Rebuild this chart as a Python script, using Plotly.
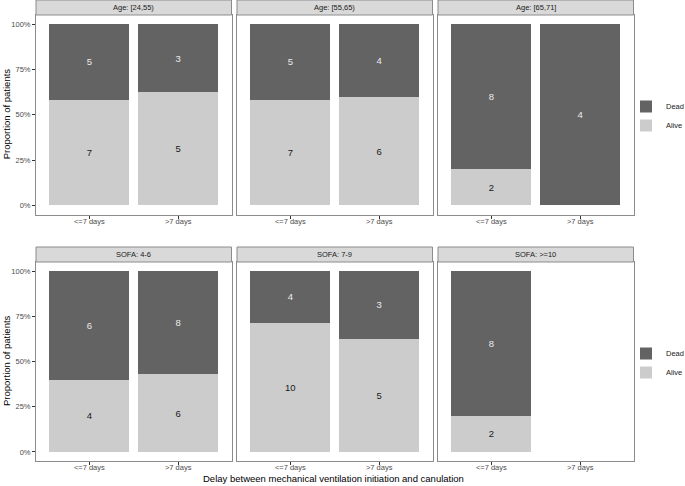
import plotly.graph_objects as go

W, H = 685, 486

categories = ["<=7 days", ">7 days"]
panel_titles = [
    ["Age: [24,55)", "Age: [55,65)", "Age: [65,71]"],
    ["SOFA: 4-6", "SOFA: 7-9", "SOFA: >=10"],
]
alive_counts = [
    [[7, 5], [7, 6], [2, 0]],
    [[4, 6], [10, 5], [2, None]],
]
dead_counts = [
    [[5, 3], [5, 4], [8, 4]],
    [[6, 8], [4, 3], [8, None]],
]
y_tick_vals = [0, 0.25, 0.5, 0.75, 1.0]
y_tick_text = ["0%", "25%", "50%", "75%", "100%"]

DEAD_COL = "#636363"
ALIVE_COL = "#cccccc"
BORDER = "#8c8c8c"
FONT = "Liberation Sans, Arial, sans-serif"

# pixel layout
x_px = [(36, 231.5), (237, 432.5), (438, 633.5)]
row_px = [(15, 214.5), (262, 461)]   # panel top/bottom (from top)
strip_h = 15

def px_x(v):
    return v / W

def px_y(v):
    return 1 - v / H

fig = go.Figure()
layout = {}
shapes = []
annotations = []

for r in range(2):
    for c in range(3):
        idx = r * 3 + c + 1
        xa = "x" if idx == 1 else f"x{idx}"
        ya = "y" if idx == 1 else f"y{idx}"
        xk = "xaxis" if idx == 1 else f"xaxis{idx}"
        yk = "yaxis" if idx == 1 else f"yaxis{idx}"
        al = alive_counts[r][c]
        de = dead_counts[r][c]
        tot = [(a + d) if a is not None else None for a, d in zip(al, de)]
        al_p = [a / t if t else None for a, t in zip(al, tot)]
        de_p = [d / t if t else None for d, t in zip(de, tot)]
        al_t = [str(a) if a else "" for a in al]
        de_t = [str(d) if d else "" for d in de]
        leg = "legend" if r == 0 else "legend2"
        fig.add_trace(go.Bar(
            x=categories, y=al_p, text=al_t, name="Alive",
            marker=dict(color=ALIVE_COL, line=dict(width=0)),
            textposition="inside", insidetextanchor="middle", textangle=0,
            textfont=dict(color="#1a1a1a", size=9.5, family=FONT),
            xaxis=xa, yaxis=ya, showlegend=(c == 0), legend=leg,
            legendrank=2, hoverinfo="skip",
        ))
        fig.add_trace(go.Bar(
            x=categories, y=de_p, text=de_t, name="Dead",
            marker=dict(color=DEAD_COL, line=dict(width=0)),
            textposition="inside", insidetextanchor="middle", textangle=0,
            textfont=dict(color="#ececec", size=9.5, family=FONT),
            xaxis=xa, yaxis=ya, showlegend=(c == 0), legend=leg,
            legendrank=1, hoverinfo="skip",
        ))
        x0, x1 = x_px[c]
        t0, t1 = row_px[r]
        layout[xk] = dict(
            domain=[px_x(x0), px_x(x1)], anchor=ya,
            type="category", categoryorder="array", categoryarray=categories,
            range=[-0.6, 1.6], showgrid=False, zeroline=False,
            showline=True, mirror=True, linecolor=BORDER, linewidth=1,
            ticks="outside", ticklen=3, tickcolor="#333333", tickwidth=1,
            tickfont=dict(size=7.5, color="#4d4d4d", family=FONT),
            ticklabelstandoff=-4,
            automargin=False, fixedrange=True,
        )
        layout[yk] = dict(
            domain=[px_y(t1), px_y(t0)], anchor=xa,
            range=[-0.05, 1.05], showgrid=False, zeroline=False,
            showline=True, mirror=True, linecolor=BORDER, linewidth=1,
            tickvals=y_tick_vals, ticktext=y_tick_text,
            ticks="outside" if c == 0 else "", ticklen=3,
            tickcolor="#333333", tickwidth=1,
            showticklabels=(c == 0),
            tickfont=dict(size=7.5, color="#4d4d4d", family=FONT),
            automargin=False, fixedrange=True,
        )
        # strip
        shapes.append(dict(
            type="rect", xref="paper", yref="paper",
            x0=px_x(x0), x1=px_x(x1), y0=px_y(t0), y1=px_y(t0 - strip_h),
            fillcolor="#d9d9d9", line=dict(color=BORDER, width=1), layer="above",
        ))
        annotations.append(dict(
            xref="paper", yref="paper", x=px_x((x0 + x1) / 2),
            y=px_y(t0 - strip_h / 2), text=panel_titles[r][c],
            showarrow=False, xanchor="center", yanchor="middle",
            font=dict(size=7.5, color="#1a1a1a", family=FONT),
        ))
    # y axis title
    t0, t1 = row_px[r]
    annotations.append(dict(
        xref="paper", yref="paper", x=px_x(6.5), y=px_y((t0 + t1) / 2 - 1),
        text="Proportion of patients", textangle=-90, showarrow=False,
        xanchor="center", yanchor="middle",
        font=dict(size=9.5, color="#000000", family=FONT),
    ))

annotations.append(dict(
    xref="paper", yref="paper", x=px_x(333), y=px_y(478),
    text="Delay between mechanical ventilation initiation and canulation",
    showarrow=False, xanchor="center", yanchor="middle",
    font=dict(size=9.5, color="#000000", family=FONT),
))

leg_common = dict(
    xanchor="left", yanchor="top", bgcolor="rgba(0,0,0,0)",
    font=dict(size=7.5, color="#1a1a1a", family=FONT),
    itemclick=False, itemdoubleclick=False, tracegroupgap=0,
    traceorder="normal", borderwidth=0,
)

fig.update_layout(
    width=W, height=H,
    margin=dict(l=0, r=0, t=0, b=0, autoexpand=False),
    paper_bgcolor="white", plot_bgcolor="white",
    barmode="stack", bargap=0.1,
    shapes=shapes, annotations=annotations,
    legend=dict(x=px_x(626), y=px_y(92), **leg_common),
    legend2=dict(x=px_x(626), y=px_y(339), **leg_common),
    font=dict(family=FONT),
    **layout,
)

fig.write_html(
    "out.html",
    config={"displayModeBar": False},
    post_script="document.body.style.margin='0px';document.body.style.overflow='hidden';",
)
